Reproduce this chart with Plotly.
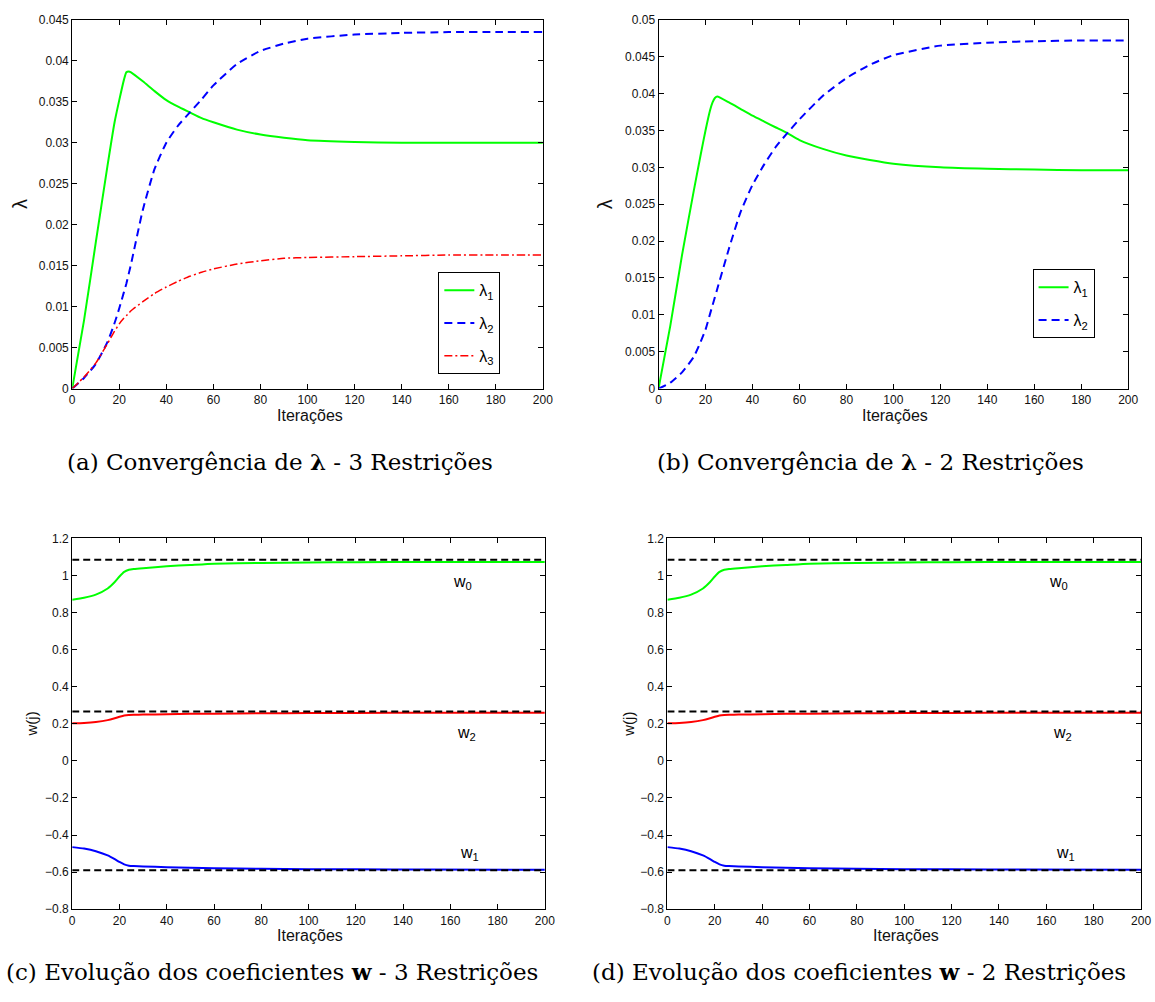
import plotly.graph_objects as go

# ---- Lagrange multipliers (top panels) ----
it_lam = [0, 5, 10, 15, 18, 20, 22, 23, 24, 25, 30, 35, 40, 45, 50, 55, 60,
          70, 80, 90, 100, 120, 140, 160, 180, 200]

# 3 constraints
lam1_3r = [0, 0.0083, 0.0178, 0.0272, 0.0325, 0.0352, 0.0377, 0.0386, 0.0387, 0.0386,
           0.0375, 0.0363, 0.0352, 0.0344, 0.0337, 0.0330, 0.0325,
           0.0316, 0.0310, 0.0306, 0.0303, 0.0301, 0.0300, 0.0300, 0.0300, 0.0300]
lam2_3r = [0, 0.0013, 0.0030, 0.0057, 0.0080, 0.0098, 0.0118, 0.0128, 0.0140, 0.0152,
           0.0218, 0.0268, 0.0300, 0.0321, 0.0337, 0.0353, 0.0370,
           0.0396, 0.0412, 0.0421, 0.0427, 0.0432, 0.0434, 0.0435, 0.0435, 0.0435]
lam3_3r = [0, 0.0014, 0.0031, 0.0055, 0.0070, 0.0079, 0.0086, 0.0089, 0.0092, 0.0095,
           0.0106, 0.0116, 0.0124, 0.0131, 0.0137, 0.0142, 0.0146,
           0.0152, 0.0156, 0.0159, 0.0160, 0.0161, 0.0162, 0.0163, 0.0163, 0.0163]

# 2 constraints
lam1_2r = [0, 0.0085, 0.0181, 0.0268, 0.0318, 0.0350, 0.0378, 0.0388, 0.0394, 0.0396,
           0.0388, 0.0379, 0.0370, 0.0362, 0.0354, 0.0346, 0.0337,
           0.0325, 0.0316, 0.0310, 0.0305, 0.0300, 0.0298, 0.0297, 0.0296, 0.0296]
lam2_2r = [0, 0.0008, 0.0022, 0.0043, 0.0064, 0.0080, 0.0102, 0.0113, 0.0124, 0.0135,
           0.0190, 0.0240, 0.0276, 0.0304, 0.0328, 0.0347, 0.0365,
           0.0397, 0.0421, 0.0439, 0.0452, 0.0465, 0.0469, 0.0471, 0.0472, 0.0472]

# ---- Filter coefficients (bottom panels) ----
it_w = [0, 5, 10, 15, 18, 20, 22, 24, 26, 30, 40, 50, 60, 80, 100, 120, 150, 200]
w0 = [0.870, 0.880, 0.897, 0.930, 0.965, 0.995, 1.020, 1.031, 1.035, 1.040, 1.050,
      1.057, 1.064, 1.068, 1.071, 1.072, 1.073, 1.073]
w1 = [-0.465, -0.473, -0.487, -0.510, -0.530, -0.545, -0.558, -0.565, -0.567, -0.569,
      -0.573, -0.576, -0.579, -0.582, -0.584, -0.585, -0.586, -0.587]
w2 = [0.203, 0.205, 0.210, 0.220, 0.230, 0.238, 0.245, 0.248, 0.249, 0.250, 0.252,
      0.254, 0.255, 0.257, 0.258, 0.259, 0.260, 0.260]
w_opt = [1.085, -0.590, 0.266]   # w0, w1, w2 optimum
w_lbl_pos = [(165, 0.96), (168, -0.50), (167, 0.15)]

# ---- Tick labels ----
x_ticks = [0, 20, 40, 60, 80, 100, 120, 140, 160, 180, 200]
x_tick_text = ["0", "20", "40", "60", "80", "100", "120", "140", "160", "180", "200"]
ya_ticks = [0, 0.005, 0.01, 0.015, 0.02, 0.025, 0.03, 0.035, 0.04, 0.045]
ya_tick_text = ["0", "0.005", "0.01", "0.015", "0.02", "0.025", "0.03", "0.035", "0.04", "0.045"]
yb_ticks = [0, 0.005, 0.01, 0.015, 0.02, 0.025, 0.03, 0.035, 0.04, 0.045, 0.05]
yb_tick_text = ["0", "0.005", "0.01", "0.015", "0.02", "0.025", "0.03", "0.035", "0.04", "0.045", "0.05"]
yw_ticks = [-0.8, -0.6, -0.4, -0.2, 0, 0.2, 0.4, 0.6, 0.8, 1, 1.2]
yw_tick_text = ["\u22120.8", "\u22120.6", "\u22120.4", "\u22120.2", "0", "0.2", "0.4",
                "0.6", "0.8", "1", "1.2"]

captions = [
    "(a) Convergência de <b>λ</b> - 3 Restrições",
    "(b) Convergência de <b>λ</b> - 2 Restrições",
    "(c) Evolução dos coeficientes <b>w</b> - 3 Restrições",
    "(d) Evolução dos coeficientes <b>w</b> - 2 Restrições",
]

GREEN, BLUE, RED = "#00ff00", "#0000ff", "#ff0000"
SANS = "Liberation Sans, Arial, Helvetica, sans-serif"
SERIF = "DejaVu Serif, serif"
W, H = 1155, 1002

fig = go.Figure()

def px_x(p):
    return p / W

def px_y(p):
    return 1 - p / H

# panel boxes in pixels: (left, right, top, bottom)
boxes = {
    "a": (70, 546, 13, 387),
    "b": (663, 1138, 13, 387),
    "c": (70, 548, 539, 915),
    "d": (672, 1151, 539, 915),
}
axis_ids = {"a": ("x", "y"), "b": ("x2", "y2"), "c": ("x3", "y3"), "d": ("x4", "y4")}

DASH2 = "8px,5px"
DASHDOT = "8px,3px,2px,3px"

# panel (a)
fig.add_trace(go.Scatter(x=it_lam, y=lam1_3r, mode="lines", name="λ<sub>1</sub>",
                         legendgroup="a1",
                         line=dict(color=GREEN, width=2, shape="spline", smoothing=0.5),
                         xaxis="x", yaxis="y", legend="legend"))
fig.add_trace(go.Scatter(x=it_lam, y=lam2_3r, mode="lines", name="λ<sub>2</sub>",
                         legendgroup="a2",
                         line=dict(color=BLUE, width=2, dash=DASH2, shape="spline", smoothing=0.5),
                         xaxis="x", yaxis="y", legend="legend"))
fig.add_trace(go.Scatter(x=it_lam, y=lam3_3r, mode="lines", name="λ<sub>3</sub>",
                         legendgroup="a3",
                         line=dict(color=RED, width=1.5, dash=DASHDOT, shape="spline", smoothing=0.5),
                         xaxis="x", yaxis="y", legend="legend"))

# panel (b)
fig.add_trace(go.Scatter(x=it_lam, y=lam1_2r, mode="lines", name="λ<sub>1</sub>",
                         legendgroup="b1",
                         line=dict(color=GREEN, width=2, shape="spline", smoothing=0.5),
                         xaxis="x2", yaxis="y2", legend="legend2"))
fig.add_trace(go.Scatter(x=it_lam, y=lam2_2r, mode="lines", name="λ<sub>2</sub>",
                         legendgroup="b2",
                         line=dict(color=BLUE, width=2, dash=DASH2, shape="spline", smoothing=0.5),
                         xaxis="x2", yaxis="y2", legend="legend2"))

# panels (c) and (d)
for key in ("c", "d"):
    xa, ya = axis_ids[key]
    for vals, col in ((w0, GREEN), (w1, BLUE), (w2, RED)):
        fig.add_trace(go.Scatter(x=it_w, y=vals, mode="lines", showlegend=False,
                                 line=dict(color=col, width=2, shape="spline", smoothing=0.5),
                                 xaxis=xa, yaxis=ya))
    for v in w_opt:
        fig.add_trace(go.Scatter(x=[x_ticks[0], x_ticks[-1]], y=[v, v], mode="lines",
                                 showlegend=False,
                                 line=dict(color="black", width=2, dash="7px,4px"),
                                 xaxis=xa, yaxis=ya))

axis_common = dict(showline=True, linecolor="black", linewidth=1, mirror="ticks",
                   ticks="inside", ticklen=5, tickcolor="black", showgrid=False,
                   zeroline=False, tickfont=dict(family=SANS, size=12, color="#111"))

yspec = {"a": ([0, 0.045], ya_ticks, ya_tick_text),
         "b": ([0, 0.05], yb_ticks, yb_tick_text),
         "c": ([-0.8, 1.2], yw_ticks, yw_tick_text),
         "d": ([-0.8, 1.2], yw_ticks, yw_tick_text)}

layout = dict(width=W, height=H, margin=dict(l=0, r=0, t=0, b=0),
              paper_bgcolor="white", plot_bgcolor="white", showlegend=True)

for key, (l, r, t, b) in boxes.items():
    xa, ya = axis_ids[key]
    xname = "xaxis" if xa == "x" else "xaxis" + xa[1:]
    yname = "yaxis" if ya == "y" else "yaxis" + ya[1:]
    yr, yt, ytt = yspec[key]
    layout[xname] = dict(axis_common, domain=[px_x(l), px_x(r)], range=[0, 200],
                         tickvals=x_ticks, ticktext=x_tick_text, anchor=ya)
    layout[yname] = dict(axis_common, domain=[px_y(b), px_y(t)], range=yr,
                         tickvals=yt, ticktext=ytt, anchor=xa)

legend_common = dict(bgcolor="white", bordercolor="black", borderwidth=1,
                     font=dict(family=SANS, size=16, color="black"),
                     xanchor="right", yanchor="top", xref="paper", yref="paper",
                     tracegroupgap=9, itemwidth=30)
layout["legend"] = dict(legend_common, x=px_x(503), y=px_y(269))
layout["legend2"] = dict(legend_common, x=px_x(1104), y=px_y(266))

fig.update_layout(**layout)

annotations = []
# axis titles
for key, (l, r, t, b) in boxes.items():
    annotations.append(dict(text="Iterações", x=px_x((l + r) / 2 + 2), y=px_y(b + 27),
                            xref="paper", yref="paper", showarrow=False,
                            xanchor="center", yanchor="middle",
                            font=dict(family=SANS, size=16, color="#111")))
for xp, yp, txt, size in ((17, 200, "λ", 20), (609, 200, "λ", 20),
                          (29, 727, "w(j)", 15), (633, 727, "w(j)", 15)):
    annotations.append(dict(text=txt, x=px_x(xp), y=px_y(yp), xref="paper", yref="paper",
                            showarrow=False, textangle=-90,
                            xanchor="center", yanchor="middle",
                            font=dict(family=SANS, size=size, color="#111")))

# coefficient labels
for key in ("c", "d"):
    xa, ya = axis_ids[key]
    for i, (px, py) in enumerate(w_lbl_pos):
        annotations.append(dict(text=f"w<sub>{i}</sub>", x=px, y=py, xref=xa, yref=ya,
                                showarrow=False, xanchor="center", yanchor="middle",
                                font=dict(family=SANS, size=16, color="black")))

# captions
cap_pos = [(280, 461), (877, 461), (272, 978), (866, 978)]
for txt, (cx, cy) in zip(captions, cap_pos):
    annotations.append(dict(text=txt, x=px_x(cx), y=px_y(cy), xref="paper", yref="paper",
                            showarrow=False, xanchor="center", yanchor="middle",
                            font=dict(family=SERIF, size=23, color="black")))

fig.update_layout(annotations=annotations)

fig.write_html("out.html")
